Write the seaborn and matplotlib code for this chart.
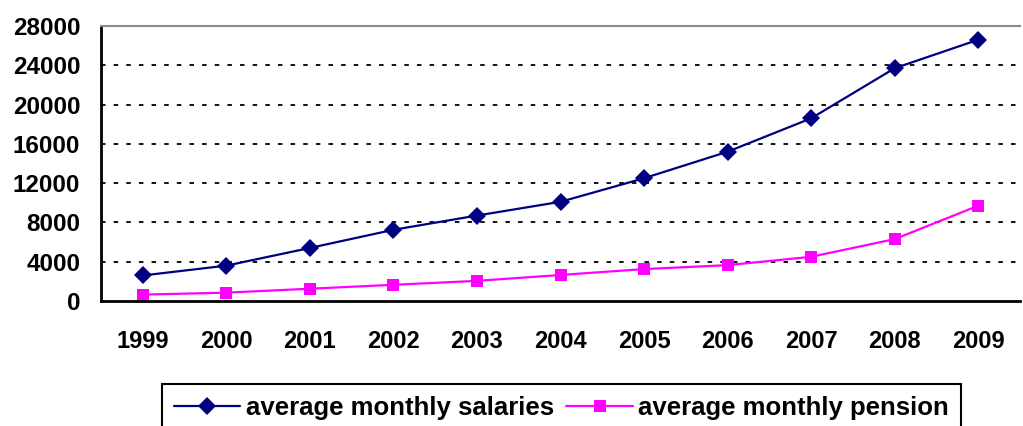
import matplotlib
matplotlib.use("Agg")
import matplotlib.pyplot as plt
import seaborn as sns
import pandas as pd
import numpy as np

years = ["1999", "2000", "2001", "2002", "2003", "2004", "2005", "2006", "2007", "2008", "2009"]
salaries = [2600, 3600, 5400, 7250, 8700, 10100, 12500, 15200, 18600, 23700, 26600]
pension = [650, 850, 1250, 1650, 2050, 2650, 3250, 3650, 4500, 6300, 9700]
y_ticks = [0, 4000, 8000, 12000, 16000, 20000, 24000, 28000]
series_names = ["average monthly salaries", "average monthly pension"]

sns.set_theme(style="white")
plt.rcParams["font.family"] = ["Liberation Sans", "DejaVu Sans"]
plt.rcParams["font.weight"] = "bold"
plt.rcParams["text.color"] = "black"
plt.rcParams["xtick.color"] = "black"
plt.rcParams["ytick.color"] = "black"
plt.rcParams["xtick.labelcolor"] = "black"
plt.rcParams["ytick.labelcolor"] = "black"

df = pd.DataFrame({
    "x": list(range(len(years))) * 2,
    "value": salaries + pension,
    "series": [series_names[0]] * len(years) + [series_names[1]] * len(years),
})

fig = plt.figure(figsize=(10.23, 4.26), dpi=100)
ax = fig.add_axes([101 / 1023, 125 / 426, 919 / 1023, 275 / 426])

sns.lineplot(data=df, x="x", y="value", hue="series", style="series",
             palette={series_names[0]: "#000080", series_names[1]: "#FF00FF"},
             markers={series_names[0]: "D", series_names[1]: "s"},
             dashes=False, markersize=9, linewidth=1.6, markeredgewidth=0,
             ax=ax, legend=True)

ax.set_xlim(-0.5, len(years) - 0.5)
ax.set_ylim(0, 28000)
ax.set_yticks(y_ticks)
ax.set_yticklabels([str(v) for v in y_ticks], fontsize=17.5, fontweight="bold", color="black")
ax.set_xticks(range(len(years)))
ax.set_xticklabels(years, fontsize=17, fontweight="bold", color="black")
ax.set_xticks(np.arange(-0.5, len(years), 1.0), minor=True)
ax.tick_params(axis="x", which="major", length=0, pad=21)
ax.tick_params(axis="x", which="minor", length=7.5, width=1.5, color="black", direction="out")
ax.tick_params(axis="y", which="major", length=6, width=1.5, color="black", direction="out", pad=9)
ax.set_xlabel("")
ax.set_ylabel("")

for yv in y_ticks[1:-1]:
    ax.axhline(yv, color="black", linestyle=(0, (2.5, 4.5)), linewidth=1.3, zorder=0)

for side in ["left", "bottom"]:
    ax.spines[side].set_color("black")
    ax.spines[side].set_linewidth(2)
ax.spines["top"].set_color("#888888")
ax.spines["top"].set_linewidth(1.5)
ax.spines["right"].set_visible(False)

handles, labels = ax.get_legend_handles_labels()
ax.legend_.remove()
leg = fig.legend(handles, labels, loc="upper left", bbox_to_anchor=(162 / 1023, 1 - 384 / 426),
                 ncol=2, frameon=True, fancybox=False, edgecolor="black", framealpha=1.0,
                 prop={"family": "Liberation Sans", "weight": "bold", "size": 18.5},
                 handlelength=2.6, handletextpad=0.2, columnspacing=0.5,
                 borderpad=0.45, borderaxespad=0, labelcolor="black")
leg.get_frame().set_linewidth(1.5)
leg.get_frame().set_edgecolor("black")

fig.savefig("out.png", dpi=100)
